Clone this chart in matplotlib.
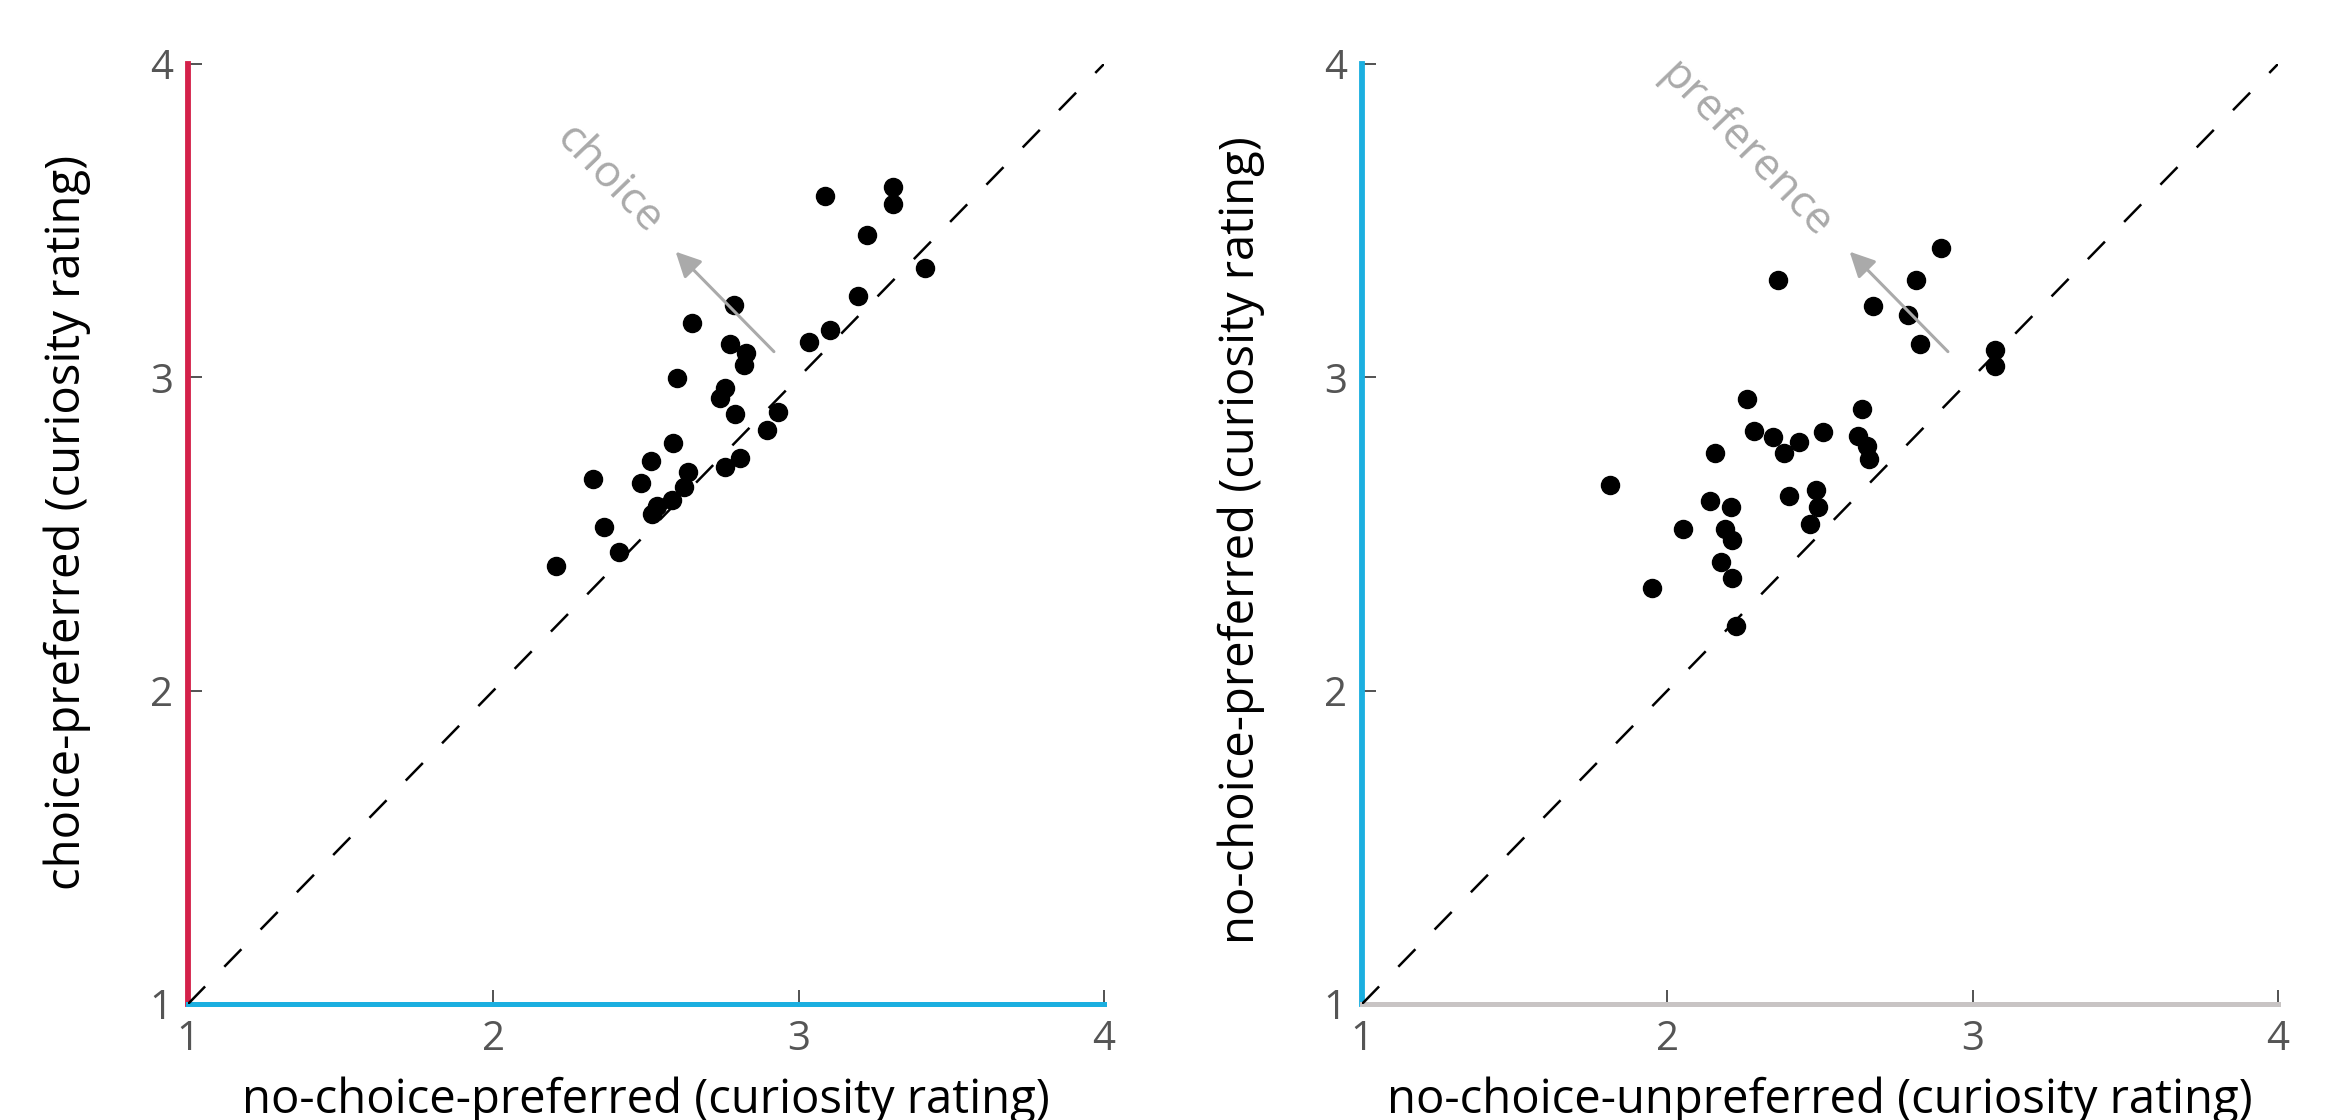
import matplotlib.pyplot as plt

plt.rcParams['font.family'] = ['Open Sans', 'DejaVu Sans']

# panel 1: choice-preferred vs no-choice-preferred
cp_x = [3.087, 3.310, 3.310, 3.223, 3.413, 3.194, 3.102, 3.033, 2.787, 2.652, 2.775,
        2.826, 2.822, 2.601, 2.758, 2.741, 2.791, 2.931, 2.897, 2.587, 2.518, 2.326,
        2.483, 2.638, 2.624, 2.586, 2.536, 2.521, 2.758, 2.809, 2.363, 2.412, 2.206]
cp_y = [3.580, 3.607, 3.553, 3.454, 3.350, 3.261, 3.150, 3.114, 3.231, 3.173, 3.105,
        3.079, 3.040, 2.999, 2.965, 2.933, 2.882, 2.889, 2.832, 2.790, 2.734, 2.676,
        2.664, 2.699, 2.651, 2.609, 2.588, 2.564, 2.713, 2.742, 2.523, 2.444, 2.398]

# panel 2: no-choice-preferred vs no-choice-unpreferred
np_x = [2.897, 2.363, 2.813, 2.674, 2.788, 2.829, 3.072, 3.072, 2.260, 2.639, 2.283,
        2.347, 2.431, 2.509, 2.624, 2.655, 2.382, 2.156, 2.660, 1.813, 2.486, 2.398,
        2.139, 2.209, 2.493, 2.051, 2.189, 2.468, 2.213, 2.175, 2.213, 1.949, 2.225]
np_y = [3.413, 3.312, 3.312, 3.227, 3.198, 3.106, 3.088, 3.035, 2.931, 2.899, 2.828,
        2.810, 2.793, 2.824, 2.812, 2.782, 2.759, 2.759, 2.740, 2.655, 2.641, 2.620,
        2.604, 2.586, 2.586, 2.517, 2.517, 2.533, 2.482, 2.412, 2.361, 2.328, 2.205]

lims = [1, 4]
ticks = [1, 2, 3, 4]
arrow_tail = (2.919, 3.082)
arrow_head = (2.597, 3.401)

panels = [
    dict(x=cp_x, y=cp_y, xlabel='no-choice-preferred (curiosity rating)',
         ylabel='choice-preferred (curiosity rating)', word='choice', word_xy=(2.377, 3.63),
         left_col='#d4214a', bottom_col='#1bafe0', left=188, ylab_y=0.512),
    dict(x=np_x, y=np_y, xlabel='no-choice-unpreferred (curiosity rating)',
         ylabel='no-choice-preferred (curiosity rating)', word='preference', word_xy=(2.256, 3.726),
         left_col='#1bafe0', bottom_col='#c8c4c4', left=1362, ylab_y=0.494),
]

W, H = 2343, 1120
fig = plt.figure(figsize=(W / 100, H / 100), dpi=100)

for p in panels:
    ax = fig.add_axes([p['left'] / W, 116 / H, 916 / W, 940 / H])
    ax.plot(p['x'], p['y'], 'o', color='black', ms=13, zorder=2, clip_on=False)
    ax.plot(lims, lims, color='black', lw=1.8, ls=(0, (9.8, 11.0)), zorder=3)
    ax.annotate('', xy=arrow_head, xytext=arrow_tail,
                arrowprops=dict(arrowstyle='-|>', color='#aaaaaa', lw=2.2, mutation_scale=38,
                                shrinkA=0, shrinkB=0))
    ax.text(p['word_xy'][0], p['word_xy'][1], p['word'], color='#aaaaaa', fontsize=32,
            rotation=-46, ha='center', va='center', rotation_mode='anchor')

    ax.set_xlim(lims)
    ax.set_ylim(lims)
    ax.set_xticks(ticks)
    ax.set_yticks(ticks)
    ax.tick_params(direction='in', length=10, width=1.3, color='#444444',
                   labelsize=29, labelcolor='#555555', pad=11)
    for s in ['top', 'right']:
        ax.spines[s].set_visible(False)
    ax.spines['left'].set_color(p['left_col'])
    ax.spines['left'].set_linewidth(4.2)
    ax.spines['bottom'].set_color(p['bottom_col'])
    ax.spines['bottom'].set_linewidth(3.6)

    ax.text(0.5, -0.116, p['xlabel'], transform=ax.transAxes, fontsize=34,
            ha='center', va='baseline')
    ax.text(-0.132, p['ylab_y'], p['ylabel'], transform=ax.transAxes, fontsize=34,
            rotation=90, ha='center', va='center')

fig.savefig('out.png', dpi=100)
